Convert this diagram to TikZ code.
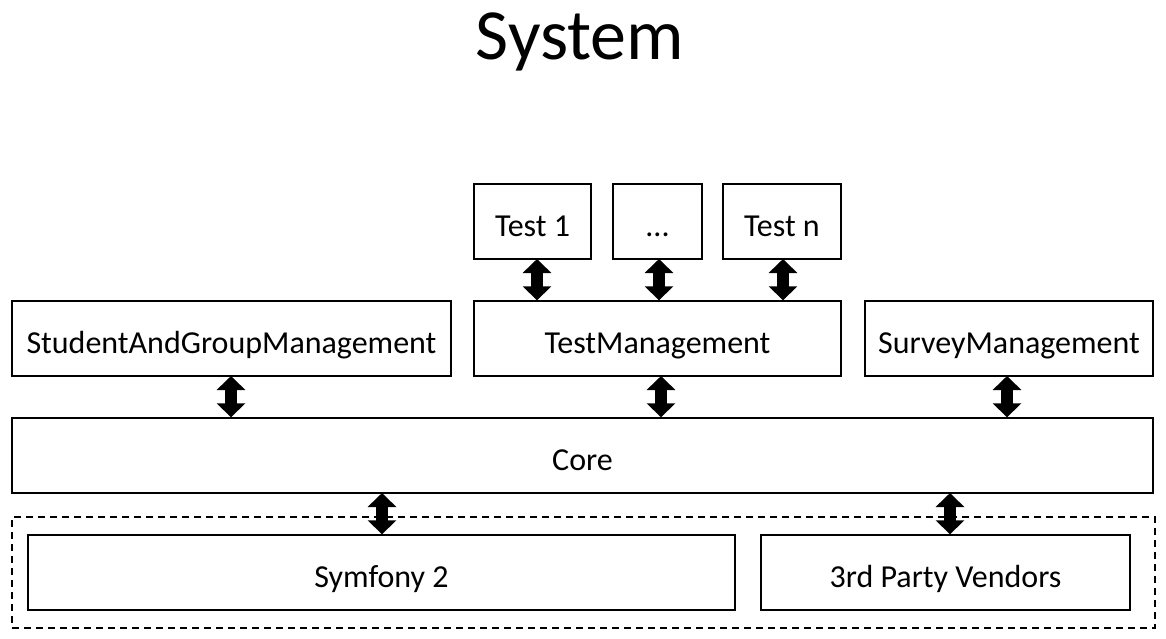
\documentclass[tikz,border=0pt]{standalone}
\usepackage{fontspec}
\setmainfont{Carlito}
\usetikzlibrary{arrows.meta}
\begin{document}
\begin{tikzpicture}[x=1pt,y=-1pt,
  box/.style={draw,line width=1.4pt,inner sep=0pt,text height=29pt,text depth=0pt,font=\fontsize{32}{38}\selectfont},
  dblarr/.style={line width=12pt,{Triangle[length=14pt,width=28pt]}-{Triangle[length=14pt,width=28pt]}},
  grp/.style={draw,line width=1.1pt,dash pattern=on 7pt off 5pt}]
\useasboundingbox (0,0) rectangle (1166,638);
\node[font=\fontsize{72}{84}\selectfont] (title) at (580,42) {System};
\newcommand\boxat[6]{\node[box,minimum width=#4-#2,minimum height=#5-#3] (#1) at ({(#2+#4)/2},{(#3+#5)/2}) {#6};}
\boxat{t1}{474}{184}{591}{259}{Test 1}
\boxat{tdots}{613}{184}{702}{259}{{.}{.}{.}}
\boxat{tn}{723}{184}{841}{259}{Test n}
\boxat{sgm}{12}{301}{451}{376}{StudentAndGroupManagement}
\boxat{tm}{474}{301}{841}{376}{TestManagement}
\boxat{sm}{865}{301}{1153}{376}{SurveyManagement}
\boxat{core}{12}{418}{1153}{493}{Core}
\node[grp,minimum width=1143,minimum height=111,inner sep=0pt] (vendorgrp) at (583.5,572.5) {};
\boxat{sf}{28}{535}{735}{610}{Symfony 2}
\boxat{tp}{761}{535}{1130}{610}{3rd Party Vendors}
\coordinate (a1) at (537,259);
\coordinate (a2) at (659,259);
\coordinate (a3) at (783,259);
\draw[dblarr] (a1) -- (a1 |- tm.north);
\draw[dblarr] (a2) -- (a2 |- tm.north);
\draw[dblarr] (a3) -- (a3 |- tm.north);
\coordinate (b1) at (231,376);
\coordinate (b2) at (661,376);
\coordinate (b3) at (1007,376);
\draw[dblarr] (b1) -- (b1 |- core.north);
\draw[dblarr] (b2) -- (b2 |- core.north);
\draw[dblarr] (b3) -- (b3 |- core.north);
\coordinate (c1) at (382,493);
\coordinate (c2) at (950,493);
\draw[dblarr] (c1) -- (c1 |- sf.north);
\draw[dblarr] (c2) -- (c2 |- tp.north);
\end{tikzpicture}
\end{document}
